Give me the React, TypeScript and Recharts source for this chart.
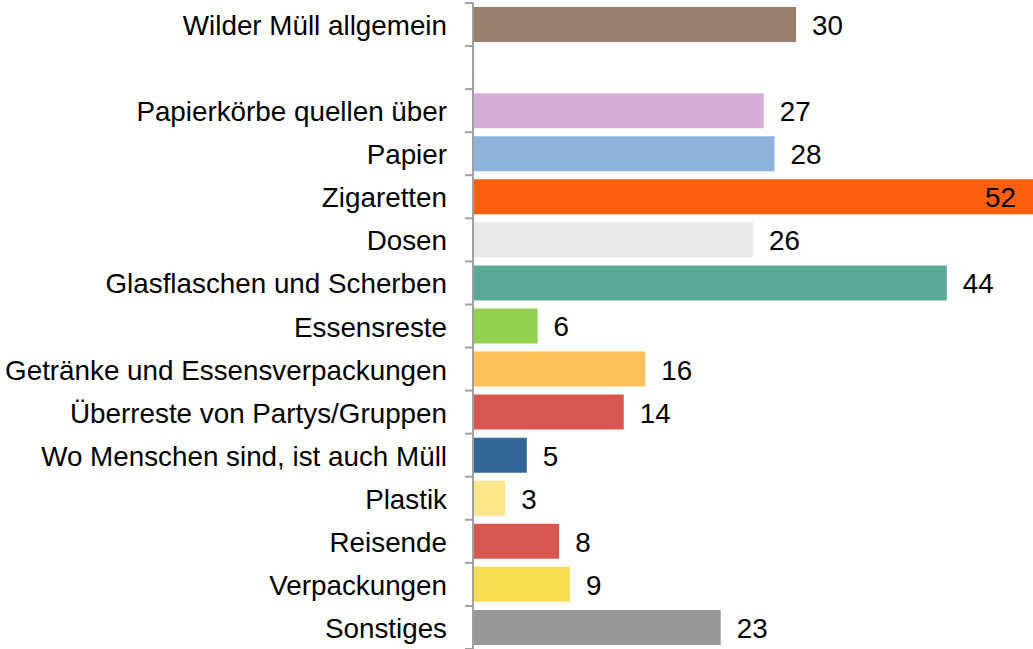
import React from "react";
import { BarChart, Bar, XAxis, YAxis, Cell, LabelList } from "recharts";

const categories = [
  "Wilder Müll allgemein",
  "",
  "Papierkörbe quellen über",
  "Papier",
  "Zigaretten",
  "Dosen",
  "Glasflaschen und Scherben",
  "Essensreste",
  "Getränke und Essensverpackungen",
  "Überreste von Partys/Gruppen",
  "Wo Menschen sind, ist auch Müll",
  "Plastik",
  "Reisende",
  "Verpackungen",
  "Sonstiges",
];

const values = [30, null, 27, 28, 52, 26, 44, 6, 16, 14, 5, 3, 8, 9, 23];

const colors = [
  "#9B7F6E",
  "#FFFFFF",
  "#D4AED6",
  "#8DB3DA",
  "#FF5F0F",
  "#E8E8E8",
  "#5BAA97",
  "#92D050",
  "#FFC05A",
  "#D75851",
  "#336699",
  "#FDE58A",
  "#D75851",
  "#F9DE52",
  "#979797",
];

const data = categories.map((name, i) => ({ name, value: values[i] }));

const WIDTH = 1033;
const HEIGHT = 649;
const MARGIN = { top: 3, right: 0, bottom: 0, left: 0 };
const AXIS_W = 473;
const FONT = "'Liberation Sans', Arial, sans-serif";
const FS = 27.8;
const BAND = (HEIGHT - MARGIN.top - MARGIN.bottom) / categories.length;

function CategoryTick(props: any) {
  const { y, payload, index } = props;
  const last = index === categories.length - 1;
  return (
    <g>
      <line x1={AXIS_W - 8} x2={AXIS_W} y1={y - BAND / 2} y2={y - BAND / 2} stroke="#A0A0A0" strokeWidth={2} />
      {last && (
        <line x1={AXIS_W - 8} x2={AXIS_W} y1={y + BAND / 2} y2={y + BAND / 2} stroke="#A0A0A0" strokeWidth={2} />
      )}
      <text x={AXIS_W - 26} y={y} dy={10.5} textAnchor="end" fontFamily={FONT} fontSize={FS} fill="#000">
        {payload.value}
      </text>
    </g>
  );
}

function ValueLabel(props: any) {
  const { x, y, width, height, value } = props;
  if (value === null || value === undefined) return null;
  const text = String(value);
  const textW = text.length * 0.556 * FS;
  const end = x + width;
  const inside = end + 16 + textW > WIDTH;
  return (
    <text
      x={inside ? end - 17 : end + 16}
      y={y + height / 2}
      dy={10.5}
      textAnchor={inside ? "end" : "start"}
      fontFamily={FONT}
      fontSize={FS}
      fill="#000"
    >
      {text}
    </text>
  );
}

export default function App() {
  return (
    <div style={{ position: "absolute", left: 0, top: 0, width: WIDTH, height: HEIGHT, background: "#fff" }}>
      <BarChart width={WIDTH} height={HEIGHT} data={data} layout="vertical" margin={MARGIN}>
        <XAxis type="number" domain={[0, 52]} hide />
        <YAxis
          type="category"
          dataKey="name"
          width={AXIS_W}
          interval={0}
          axisLine={{ stroke: "#A0A0A0", strokeWidth: 2 }}
          tickLine={false}
          tick={<CategoryTick />}
        />
        <Bar dataKey="value" barSize={35} isAnimationActive={false}>
          {data.map((d, i) => (
            <Cell key={i} fill={colors[i]} />
          ))}
          <LabelList dataKey="value" content={<ValueLabel />} />
        </Bar>
      </BarChart>
    </div>
  );
}
